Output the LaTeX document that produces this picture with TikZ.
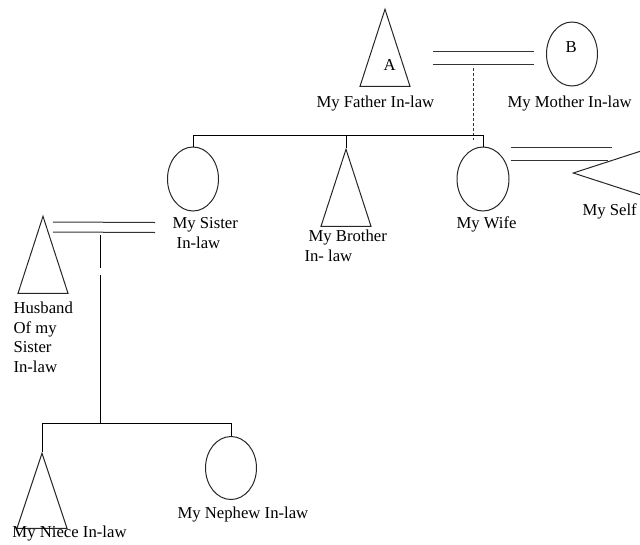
\documentclass[tikz,border=0pt]{standalone}
\usepackage{fontspec}
\setmainfont{Liberation Serif}
\usetikzlibrary{calc}
\usetikzlibrary{positioning}
\usetikzlibrary{shapes.geometric}
\tikzset{male/.style={isosceles triangle,isosceles triangle stretches,shape border rotate=90,draw=black!85,inner sep=0pt,minimum width=50pt,minimum height=77pt}}
\tikzset{female/.style={ellipse,draw=black!85,inner sep=0pt,minimum width=51pt,minimum height=64pt}}
\tikzset{tag/.style={inner sep=0pt,anchor=base west,align=left,font=\fontsize{16.7}{19.5}\selectfont}}

\begin{document}
\begin{tikzpicture}[x=1pt,y=-1pt,line width=1pt]
\useasboundingbox (0,0) rectangle (640,544);

% parents in-law
\node[male,anchor=apex] (fa) at (385,8) {};
\node[female] (mo) at (572,54) {};
\node[tag] (faA) at (383,70) {A};
\node[tag] (moB) at (565,52) {B};
\node[tag] (faL) at (316,107) {My Father In-law};
\node[tag] (moL) at (507,107) {My Mother In-law};
\draw[black!80] ($(fa.apex)+(48,43)$) -- ($(mo.west)+(-12,-3)$);
\draw[black!80] ($(fa.apex)+(48,56)$) -- ($(mo.west)+(-12,10)$);
\coordinate (fm) at (473,68);
\draw[black!80,dash pattern=on 3pt off 2pt] (fm) -- ++(0,72);

% children
\coordinate (bar) at (0,135);
\node[female] (sis) at (193,179) {};
\node[male,anchor=apex] (bro) at (346,148) {};
\node[female,minimum width=52pt] (wife) at (483,179) {};
\node[male,anchor=apex,shape border rotate=182.5] (self) at (572,173) {};
\draw (sis.north) -- (sis.north |- bar) -- (wife.north |- bar) -- (wife.north);
\draw (bro.apex) -- (bro.apex |- bar);
\node[tag] (sisL) at (172,248) {My Sister\\\hspace*{4.2pt}In-law};
\node[tag] (broL) at (304,261) {\hspace*{4pt}My Brother\\In- law};
\node[tag] (wifeL) at (456,228) {My Wife};
\node[tag] (selfL) at (582,215) {My Self};
\draw[black!80] ($(wife.east)+(1,-32)$) -- ($(self.apex)+(40,-26)$);
\draw[black!80] ($(wife.east)+(1,-19)$) -- ($(self.apex)+(36,-13)$);

% sister's family
\node[male,anchor=apex] (hus) at (43,215) {};
\node[tag] (husL) at (13,372) {Husband\\Of my\\Sister\\In-law};
\draw[black!80] ($(hus.apex)+(10,7)$) -- ($(sis.south)+(-38,11)$);
\draw[black!80] ($(hus.apex)+(10,17)$) -- ($(sis.south)+(-38,21)$);
\coordinate (kid) at (100,423);
\draw ($(hus.apex)+(57,20)$) -- ++(0,33);
\draw ($(hus.apex)+(57,60)$) -- (kid);
\node[male,anchor=apex,minimum height=75pt] (nie) at (42,452) {};
\node[female,minimum height=63pt] (nep) at (231,468) {};
\draw (nie.apex) -- (nie.apex |- kid) -- (nep.north |- kid) -- (nep.north);
\node[tag] (nieL) at (12,537) {My Niece In-law};
\node[tag] (nepL) at (177,518) {My Nephew In-law};

\end{tikzpicture}
\end{document}
